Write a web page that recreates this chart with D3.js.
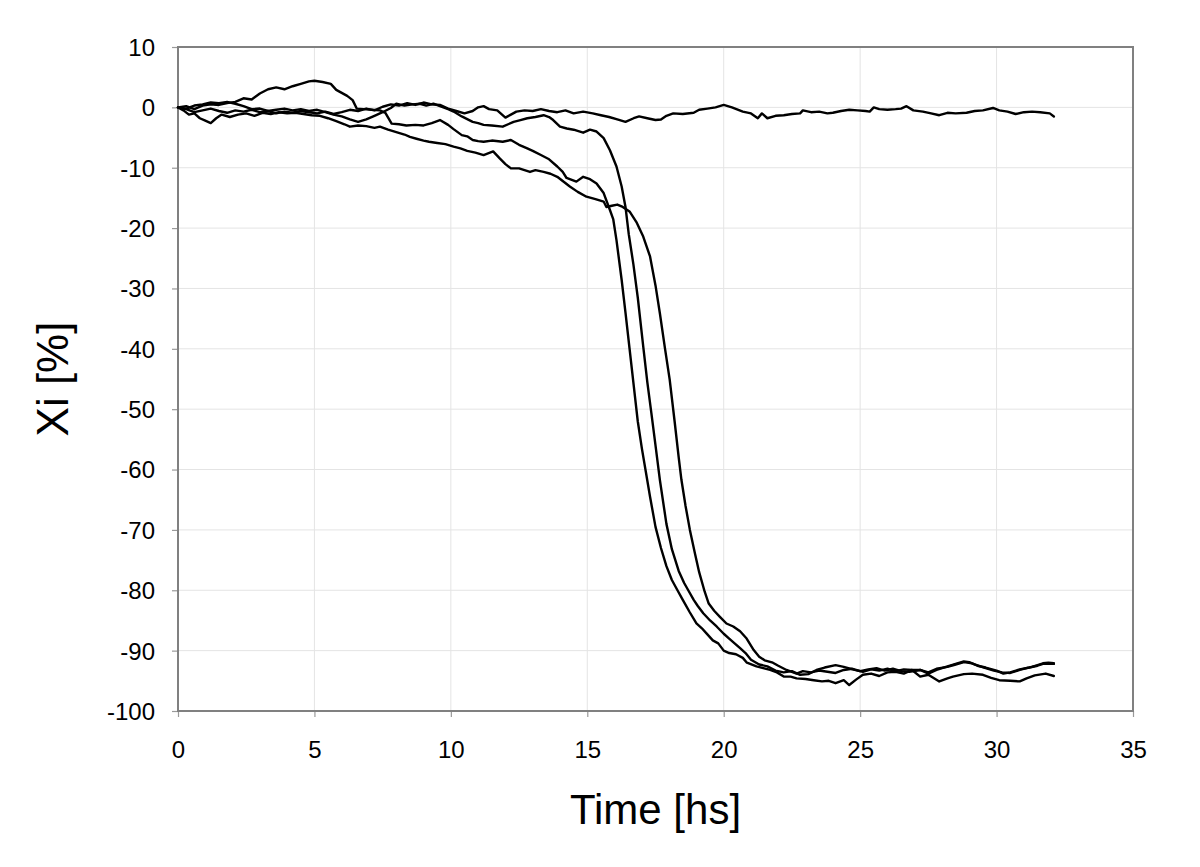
<!DOCTYPE html>
<html>
<head>
<meta charset="utf-8">
<script src="https://cdn.jsdelivr.net/npm/d3@7"></script>
<style>
  html, body { margin: 0; padding: 0; background: #ffffff; }
  svg { display: block; }
  text { font-family: "Liberation Sans", Arial, Helvetica, sans-serif; fill: #000; }
</style>
</head>
<body>
<svg id="chart" width="1200" height="867"></svg>
<script>
// ---- data ----
const xTicks = [0, 5, 10, 15, 20, 25, 30, 35];
const yTicks = [10, 0, -10, -20, -30, -40, -50, -60, -70, -80, -90, -100];
const xTitle = "Time [hs]";
const yTitle = "Xi [%]";

const seriesA = [[0,0],[0.3,-0.3],[0.6,-0.8],[0.9,-0.5],[1.2,-0.2],[1.5,-0.6],[1.8,-0.9],[2.1,-0.5],[2.4,-0.7],[2.7,-0.4],[3.0,-0.8],[3.3,-0.6],[3.6,-1.0],[3.9,-0.7],[4.2,-0.9],[4.5,-0.6],[4.8,-0.8],[5.1,-1.0],[5.4,-0.7],[5.7,-1.1],[6.0,-0.8],[6.3,-0.4],[6.6,-0.6],[6.9,-0.2],[7.2,-0.5],[7.5,0.1],[7.8,0.5],[8.1,0.3],[8.4,0.7],[8.7,0.4],[9.0,0.8],[9.3,0.5],[9.6,0.4],[9.9,-0.2],[10.2,-0.6],[10.5,-1.0],[10.8,-0.6],[11.0,0.0],[11.2,0.2],[11.4,-0.3],[11.7,-0.5],[12.0,-1.7],[12.2,-1.2],[12.4,-0.7],[12.7,-0.5],[13.0,-0.6],[13.3,-0.3],[13.6,-0.6],[13.9,-0.8],[14.2,-0.5],[14.5,-1.0],[14.85,-0.7],[15.2,-1.0],[15.5,-1.3],[15.8,-1.6],[16.1,-2.0],[16.4,-2.4],[16.7,-1.8],[16.9,-1.5],[17.2,-1.8],[17.5,-2.1],[17.7,-2.0],[17.9,-1.4],[18.15,-1.0],[18.5,-1.1],[18.9,-0.9],[19.1,-0.4],[19.4,-0.2],[19.7,0.0],[20.0,0.4],[20.3,0.0],[20.7,-0.7],[21.0,-1.0],[21.25,-1.8],[21.4,-1.0],[21.6,-1.8],[21.9,-1.4],[22.2,-1.3],[22.5,-1.1],[22.8,-1.0],[22.9,-0.5],[23.2,-0.8],[23.5,-0.7],[23.8,-1.0],[24.0,-0.9],[24.3,-0.6],[24.6,-0.4],[24.9,-0.5],[25.2,-0.6],[25.35,-0.7],[25.5,0.0],[25.7,-0.3],[26.0,-0.4],[26.3,-0.3],[26.5,-0.2],[26.7,0.2],[26.95,-0.5],[27.3,-0.7],[27.6,-1.0],[27.9,-1.3],[28.2,-0.9],[28.5,-1.0],[28.9,-0.9],[29.2,-0.6],[29.5,-0.5],[29.87,-0.1],[30.1,-0.5],[30.4,-0.7],[30.7,-1.1],[31.0,-0.8],[31.3,-0.7],[31.6,-0.8],[31.95,-1.0],[32.1,-1.5]];

const seriesB = [[0,0],[0.3,0.2],[0.6,-0.3],[0.9,0.3],[1.2,0.5],[1.5,0.4],[1.8,0.7],[2.1,0.9],[2.4,1.5],[2.7,1.3],[3.0,2.3],[3.3,3.0],[3.6,3.3],[3.9,3.0],[4.2,3.5],[4.5,3.9],[4.8,4.3],[5.0,4.4],[5.3,4.2],[5.6,3.9],[5.8,2.9],[6.0,2.4],[6.2,1.9],[6.4,1.2],[6.55,-0.2],[6.8,-0.3],[7.1,-0.4],[7.4,-0.5],[7.6,-0.9],[7.83,-2.7],[8.1,-2.8],[8.37,-3.0],[8.7,-2.9],[9.0,-3.0],[9.3,-2.6],[9.6,-2.1],[9.9,-2.9],[10.1,-3.6],[10.4,-4.6],[10.6,-4.8],[10.8,-5.4],[11.0,-5.6],[11.2,-5.7],[11.5,-5.5],[11.9,-5.7],[12.2,-5.4],[12.5,-6.2],[12.8,-6.8],[13.0,-7.2],[13.3,-7.9],[13.6,-8.6],[13.9,-9.8],[14.1,-10.7],[14.24,-11.7],[14.6,-12.3],[14.85,-11.5],[15.1,-11.9],[15.34,-12.6],[15.6,-14.2],[15.83,-17.0],[15.95,-18.5],[16.07,-22.0],[16.26,-28.6],[16.4,-34],[16.55,-40],[16.7,-46],[16.85,-52],[17.0,-56.5],[17.15,-60.5],[17.3,-64.5],[17.5,-69.5],[17.7,-73],[17.9,-76],[18.1,-78.3],[18.33,-80.2],[18.5,-81.6],[18.75,-83.6],[19.0,-85.5],[19.2,-86.3],[19.36,-87.1],[19.6,-88.3],[19.8,-88.8],[20.0,-90.0],[20.2,-90.4],[20.45,-90.6],[20.7,-91.2],[20.85,-92.0],[21.2,-92.6],[21.45,-92.9],[21.7,-93.2],[21.95,-93.6],[22.2,-94.3],[22.45,-94.3],[22.67,-94.6],[23.0,-94.7],[23.3,-94.9],[23.6,-95.1],[23.85,-95.0],[24.1,-95.4],[24.4,-94.9],[24.6,-95.7],[24.85,-94.8],[25.1,-94.0],[25.4,-93.8],[25.7,-94.2],[26.0,-93.6],[26.3,-93.5],[26.6,-93.8],[26.9,-93.2],[27.2,-93.2],[27.5,-93.6],[27.8,-93.0],[28.2,-92.7],[28.5,-92.3],[28.8,-91.9],[29.1,-92.1],[29.4,-92.6],[29.6,-92.9],[29.9,-93.3],[30.2,-93.6],[30.5,-93.7],[30.85,-93.2],[31.1,-92.9],[31.3,-92.7],[31.5,-92.4],[31.7,-92.1],[31.9,-92.0],[32.1,-92.1]];

const seriesC = [[0,0],[0.3,-0.2],[0.6,0.3],[0.9,0.5],[1.2,0.8],[1.5,0.7],[1.8,0.9],[2.1,0.6],[2.4,0.2],[2.7,-0.3],[3.0,-0.2],[3.3,-0.6],[3.6,-0.4],[3.9,-0.2],[4.2,-0.5],[4.5,-0.3],[4.8,-0.6],[5.1,-0.4],[5.4,-0.8],[5.7,-1.2],[6.0,-1.5],[6.3,-2.0],[6.6,-2.4],[6.9,-2.0],[7.2,-1.4],[7.5,-0.8],[7.8,-0.1],[8.0,0.6],[8.3,0.3],[8.6,0.5],[8.87,0.6],[9.1,0.3],[9.36,0.6],[9.6,0.2],[9.9,-0.3],[10.1,-0.7],[10.4,-1.5],[10.8,-2.4],[11.0,-2.6],[11.2,-2.9],[11.5,-3.0],[11.9,-3.2],[12.1,-2.8],[12.3,-2.4],[12.55,-2.1],[12.8,-1.8],[13.1,-1.6],[13.4,-1.3],[13.6,-1.6],[13.75,-2.1],[14.0,-3.2],[14.25,-3.5],[14.5,-3.7],[14.85,-4.2],[15.1,-3.7],[15.34,-4.0],[15.6,-5.1],[15.83,-7.1],[16.07,-9.8],[16.26,-13.1],[16.4,-16.5],[16.52,-21],[16.69,-26],[16.85,-31.5],[17.05,-39.6],[17.2,-45.5],[17.35,-50.7],[17.5,-56],[17.66,-61.7],[17.9,-69],[18.1,-73.2],[18.35,-76.8],[18.55,-78.8],[18.7,-80],[18.9,-81.6],[19.05,-82.6],[19.25,-83.8],[19.5,-85.0],[19.74,-86.0],[20.0,-87.2],[20.2,-88.0],[20.6,-89.6],[20.8,-90.4],[21.0,-91.5],[21.3,-92.3],[21.6,-92.6],[21.9,-93.3],[22.2,-93.6],[22.5,-93.4],[22.8,-94.0],[23.1,-93.9],[23.4,-93.2],[23.7,-92.8],[24.1,-92.4],[24.4,-92.7],[24.8,-93.2],[25.1,-93.5],[25.4,-93.1],[25.7,-93.3],[26.0,-93.0],[26.3,-93.4],[26.6,-93.1],[26.9,-93.2],[27.2,-94.3],[27.5,-94.0],[27.9,-95.1],[28.2,-94.6],[28.4,-94.3],[28.8,-93.9],[29.1,-93.8],[29.5,-94.0],[29.8,-94.5],[30.1,-94.9],[30.5,-95.0],[30.85,-95.1],[31.1,-94.6],[31.4,-94.1],[31.8,-93.8],[32.1,-94.2]];

const seriesD = [[0,0],[0.2,-0.5],[0.4,-1.2],[0.6,-1.0],[0.8,-1.8],[1.0,-2.2],[1.2,-2.6],[1.4,-1.8],[1.6,-1.2],[1.9,-1.6],[2.2,-1.2],[2.5,-1.0],[2.8,-1.4],[3.1,-0.9],[3.4,-1.1],[3.7,-0.8],[4.0,-1.0],[4.3,-0.9],[4.6,-1.1],[4.9,-1.3],[5.2,-1.4],[5.5,-1.8],[5.8,-2.3],[6.1,-2.8],[6.3,-3.2],[6.6,-3.0],[6.9,-3.1],[7.2,-3.4],[7.4,-3.2],[7.7,-3.7],[8.0,-4.1],[8.3,-4.5],[8.5,-4.9],[8.74,-5.2],[9.0,-5.5],[9.2,-5.7],[9.5,-5.9],[9.8,-6.1],[10.1,-6.5],[10.35,-6.8],[10.6,-7.2],[10.9,-7.5],[11.2,-7.9],[11.55,-7.3],[11.8,-8.5],[12.0,-9.4],[12.2,-10.1],[12.5,-10.1],[12.9,-10.7],[13.1,-10.4],[13.4,-10.7],[13.65,-11.0],[13.9,-11.5],[14.1,-12.2],[14.36,-13.1],[14.65,-14.0],[14.97,-14.8],[15.3,-15.2],[15.6,-15.6],[15.7,-16.5],[15.9,-16.3],[16.1,-16.1],[16.3,-16.5],[16.56,-17.3],[16.8,-19.0],[17.05,-21.4],[17.3,-24.7],[17.5,-29.5],[17.66,-34.1],[17.85,-40],[18.02,-45.1],[18.2,-52],[18.35,-58],[18.45,-61.7],[18.6,-66],[18.76,-70],[18.95,-74],[19.1,-77],[19.3,-80.2],[19.45,-82.2],[19.65,-83.4],[19.86,-84.4],[20.1,-85.5],[20.35,-86.0],[20.6,-86.8],[20.84,-88.0],[21.1,-89.9],[21.3,-91.0],[21.5,-91.6],[21.8,-92.0],[22.0,-92.5],[22.3,-93.2],[22.67,-93.8],[22.9,-93.4],[23.2,-93.6],[23.5,-93.3],[23.8,-93.5],[24.1,-93.7],[24.4,-93.2],[24.7,-93.0],[25.0,-93.4],[25.3,-93.1],[25.6,-92.9],[25.9,-93.3],[26.2,-93.0],[26.5,-93.4],[26.8,-93.5],[27.2,-93.2],[27.5,-93.8],[27.8,-93.2],[28.2,-92.6],[28.5,-92.2],[28.8,-91.8],[29.0,-91.9],[29.3,-92.5],[29.6,-92.8],[30.0,-93.3],[30.25,-93.8],[30.5,-93.6],[30.85,-93.1],[31.2,-92.8],[31.5,-92.5],[31.7,-92.2],[32.1,-92.2]];

const allSeries = [seriesA, seriesB, seriesC, seriesD];

// ---- layout ----
const svg = d3.select("#chart");
const plot = { left: 178, top: 47, right: 1133, bottom: 711 };

const x = d3.scaleLinear().domain([0, 35]).range([plot.left, plot.right]);
const y = d3.scaleLinear().domain([-100, 10]).range([plot.bottom, plot.top]);

svg.append("rect").attr("width", 1200).attr("height", 867).attr("fill", "#ffffff");

// gridlines
const grid = svg.append("g");
grid.selectAll("line.gx").data(xTicks.slice(1, -1)).join("line")
  .attr("x1", d => x(d)).attr("x2", d => x(d))
  .attr("y1", plot.top).attr("y2", plot.bottom)
  .attr("stroke", "#e4e4e4").attr("stroke-width", 1);
grid.selectAll("line.gy").data(yTicks.slice(1, -1)).join("line")
  .attr("y1", d => y(d)).attr("y2", d => y(d))
  .attr("x1", plot.left).attr("x2", plot.right)
  .attr("stroke", "#e4e4e4").attr("stroke-width", 1);

// axes (hyphen-minus labels as in the original)
const fmt = d => String(d);
const xAxis = d3.axisBottom(x).tickValues(xTicks).tickSize(6).tickPadding(24).tickFormat(fmt);
const yAxis = d3.axisLeft(y).tickValues(yTicks).tickSize(6).tickPadding(17).tickFormat(fmt);

const gx = svg.append("g").attr("transform", `translate(0,${plot.bottom})`).call(xAxis);
const gy = svg.append("g").attr("transform", `translate(${plot.left},0)`).call(yAxis);
[gx, gy].forEach(g => {
  g.select(".domain").remove();
  g.selectAll(".tick line").attr("stroke", "#9a9a9a").attr("stroke-width", 1.2);
  g.selectAll(".tick text").attr("font-size", 24).attr("fill", "#000")
    .attr("font-family", '"Liberation Sans", Arial, sans-serif');
});
gy.selectAll(".tick text").attr("dy", "0.35em");

// frame
svg.append("rect")
  .attr("x", plot.left).attr("y", plot.top)
  .attr("width", plot.right - plot.left).attr("height", plot.bottom - plot.top)
  .attr("fill", "none").attr("stroke", "#808080").attr("stroke-width", 2);

// lines
const line = d3.line().x(d => x(d[0])).y(d => y(d[1]));
svg.append("g").selectAll("path").data(allSeries).join("path")
  .attr("d", line)
  .attr("fill", "none")
  .attr("stroke", "#000")
  .attr("stroke-width", 2.4)
  .attr("stroke-linejoin", "round")
  .attr("stroke-linecap", "round");

// titles
svg.append("text")
  .attr("x", (plot.left + plot.right) / 2).attr("y", 824)
  .attr("text-anchor", "middle").attr("font-size", 42)
  .text(xTitle);
svg.append("text")
  .attr("transform", `translate(68,${(plot.top + plot.bottom) / 2}) rotate(-90)`)
  .attr("text-anchor", "middle").attr("font-size", 44)
  .text(yTitle);
</script>
</body>
</html>
